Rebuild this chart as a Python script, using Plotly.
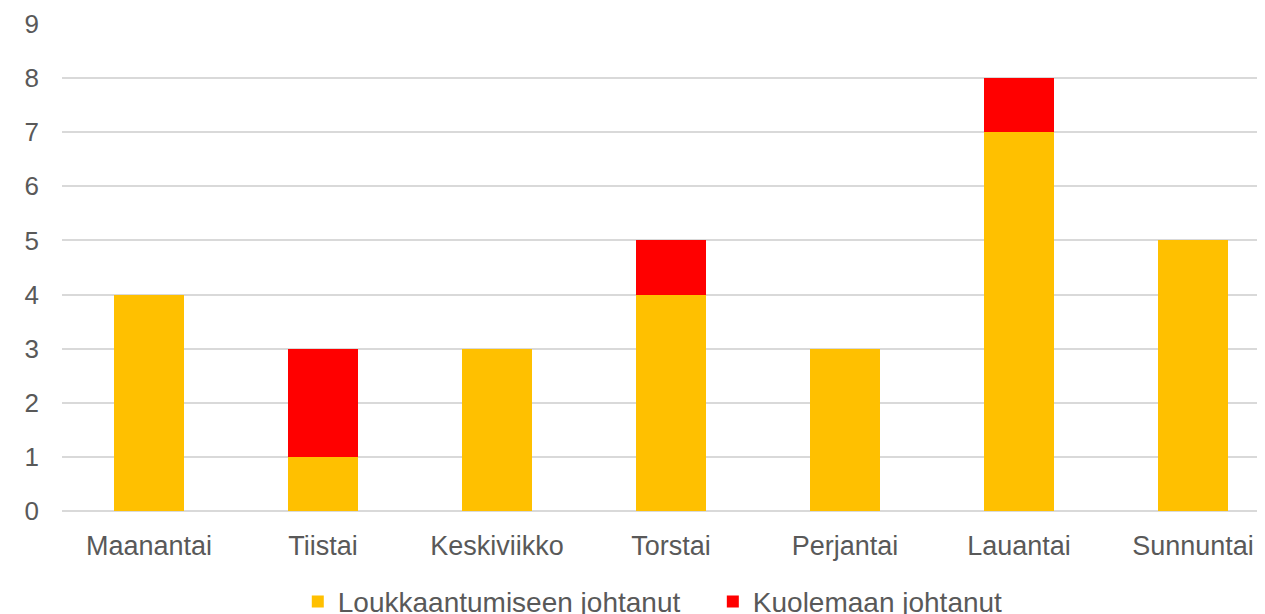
import plotly.graph_objects as go

days = ["Maanantai", "Tiistai", "Keskiviikko", "Torstai", "Perjantai", "Lauantai", "Sunnuntai"]
injury = [4, 1, 3, 4, 3, 7, 5]
death = [0, 2, 0, 1, 0, 1, 0]
series_names = ["Loukkaantumiseen johtanut", "Kuolemaan johtanut"]
y_ticks = list(range(0, 10))

fig = go.Figure()
fig.add_trace(go.Bar(x=days, y=injury, name=series_names[0], legend="legend",
                     marker=dict(color="#FFC000", line=dict(width=0))))
fig.add_trace(go.Bar(x=days, y=death, name=series_names[1], legend="legend2",
                     marker=dict(color="#FF0000", line=dict(width=0))))

legend_style = dict(orientation="h", y=-0.135, yanchor="top", xanchor="left",
                    font=dict(size=28, color="#595959"), itemwidth=30,
                    bgcolor="rgba(0,0,0,0)")

fig.update_layout(
    barmode="stack",
    bargap=0.6,
    width=1257, height=640,
    margin=dict(l=54, r=0, t=16, b=137),
    plot_bgcolor="white", paper_bgcolor="white",
    font=dict(family="Liberation Sans, Arial, sans-serif", color="#595959", size=24),
    showlegend=True,
    legend=dict(x=0.196, **legend_style),
    legend2=dict(x=0.541, **legend_style),
)
fig.update_xaxes(range=[-0.5, 6.414], showgrid=False, showline=False, ticks="",
                 automargin=False, ticklabelstandoff=16,
                 tickfont=dict(size=27, color="#595959"))
fig.update_yaxes(range=[0, 9], tickvals=y_ticks, showgrid=True, gridcolor="#D9D9D9", gridwidth=2,
                 zeroline=True, zerolinecolor="#D9D9D9", zerolinewidth=2, showline=False,
                 automargin=False,
                 tickfont=dict(size=26, color="#595959"), ticklabelstandoff=22)

fig.write_html("out.html")
